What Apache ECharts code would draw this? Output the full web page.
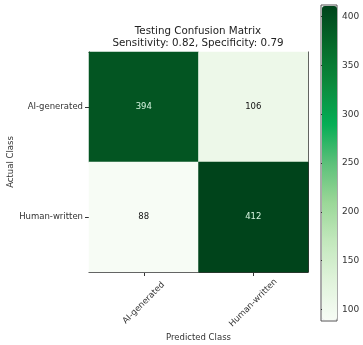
<!DOCTYPE html>
<html><head><meta charset="utf-8">
<script src="https://cdn.jsdelivr.net/npm/echarts@6/dist/echarts.min.js"></script>
<style>html,body{margin:0;padding:0;background:#fff}#c{width:363px;height:345px}</style>
</head><body><div id="c"></div>
<script>
var predictedClasses = ['AI-generated', 'Human-written'];
var actualClasses = ['AI-generated', 'Human-written'];
var matrixValues = [[394, 106], [88, 412]]; // rows: actual, cols: predicted
var colorbarTicks = [100, 150, 200, 250, 300, 350, 400];
var titleLines = ['Testing Confusion Matrix', 'Sensitivity: 0.82, Specificity: 0.79'];

var flat = [].concat.apply([], matrixValues);
var vMin = Math.min.apply(null, flat), vMax = Math.max.apply(null, flat);
var thresh = (vMin + vMax) / 2;
var data = [];
for (var r = 0; r < actualClasses.length; r++) {
  for (var c = 0; c < predictedClasses.length; c++) {
    var v = matrixValues[r][c];
    data.push({ value: [c, r, v], label: { color: v > thresh ? '#d6f5e0' : '#111' } });
  }
}
var font = 'DejaVu Sans';
var fs = 8.5;
var chart = echarts.init(document.getElementById('c'));
chart.setOption({
  animation: false,
  textStyle: { fontFamily: font },
  title: {
    text: titleLines.join('\n'), left: 198, top: 25, textAlign: 'center', padding: 0,
    textStyle: { fontSize: 10.3, fontWeight: 'normal', color: '#222', lineHeight: 12, fontFamily: font }
  },
  grid: [
    { left: 89, top: 52, width: 219, height: 220, outerBoundsMode: 'none', containLabel: false },
    { left: 321, top: 5, width: 16, height: 316, show: true, borderColor: '#555', borderWidth: 1,
      backgroundColor: 'transparent', outerBoundsMode: 'none', containLabel: false }
  ],
  xAxis: [
    { type: 'category', data: predictedClasses, gridIndex: 0, position: 'bottom',
      name: 'Predicted Class', nameLocation: 'middle', nameGap: 61, nameMoveOverlap: false,
      nameTextStyle: { fontSize: fs, color: '#333' },
      axisLine: { show: true, lineStyle: { color: '#333', width: 1 } },
      axisTick: { show: true, alignWithLabel: true, length: 4, lineStyle: { color: '#333' } },
      axisLabel: { rotate: 45, fontSize: fs, color: '#333', margin: 31, align: 'center', verticalAlign: 'middle' },
      splitLine: { show: false } },
    { type: 'category', data: predictedClasses, gridIndex: 0, position: 'top',
      axisLine: { show: true, lineStyle: { color: '#333', width: 1 } },
      axisTick: { show: false }, axisLabel: { show: false } },
    { type: 'value', gridIndex: 1, show: false }
  ],
  yAxis: [
    { type: 'category', data: actualClasses, gridIndex: 0, inverse: true, position: 'left',
      name: 'Actual Class', nameLocation: 'middle', nameGap: 74, nameRotate: 90, nameMoveOverlap: false,
      nameTextStyle: { fontSize: fs, color: '#333' },
      axisLine: { show: true, lineStyle: { color: '#333', width: 1 } },
      axisTick: { show: true, alignWithLabel: true, length: 4, lineStyle: { color: '#333' } },
      axisLabel: { fontSize: fs, color: '#333', margin: 6 } },
    { type: 'category', data: actualClasses, gridIndex: 0, inverse: true, position: 'right',
      axisLine: { show: true, lineStyle: { color: '#333', width: 1 } },
      axisTick: { show: false }, axisLabel: { show: false } },
    { type: 'value', gridIndex: 1, position: 'right', min: vMin, max: vMax,
      axisLine: { show: false }, splitLine: { show: false },
      axisTick: { show: true, length: 3, customValues: colorbarTicks, lineStyle: { color: '#333' } },
      axisLabel: { fontSize: 9, color: '#333', margin: 5, customValues: colorbarTicks } }
  ],
  visualMap: {
    type: 'continuous', min: vMin, max: vMax, calculable: false, orient: 'vertical',
    left: 322, top: 6, itemWidth: 15, itemHeight: 314, padding: 0, text: null, showLabel: false,
    seriesIndex: 0,
    inRange: { color: ['#f7fcf5', '#e0f3db', '#c3e8bd', '#9ad797', '#5cc07a', '#05ad55', '#0b8a3d', '#066a2a', '#00441b'] }
  },
  series: [{
    type: 'heatmap', xAxisIndex: 0, yAxisIndex: 0, data: data,
    label: { show: true, fontSize: fs },
    itemStyle: { borderWidth: 0 },
    emphasis: { disabled: true }
  }]
});
</script></body></html>
